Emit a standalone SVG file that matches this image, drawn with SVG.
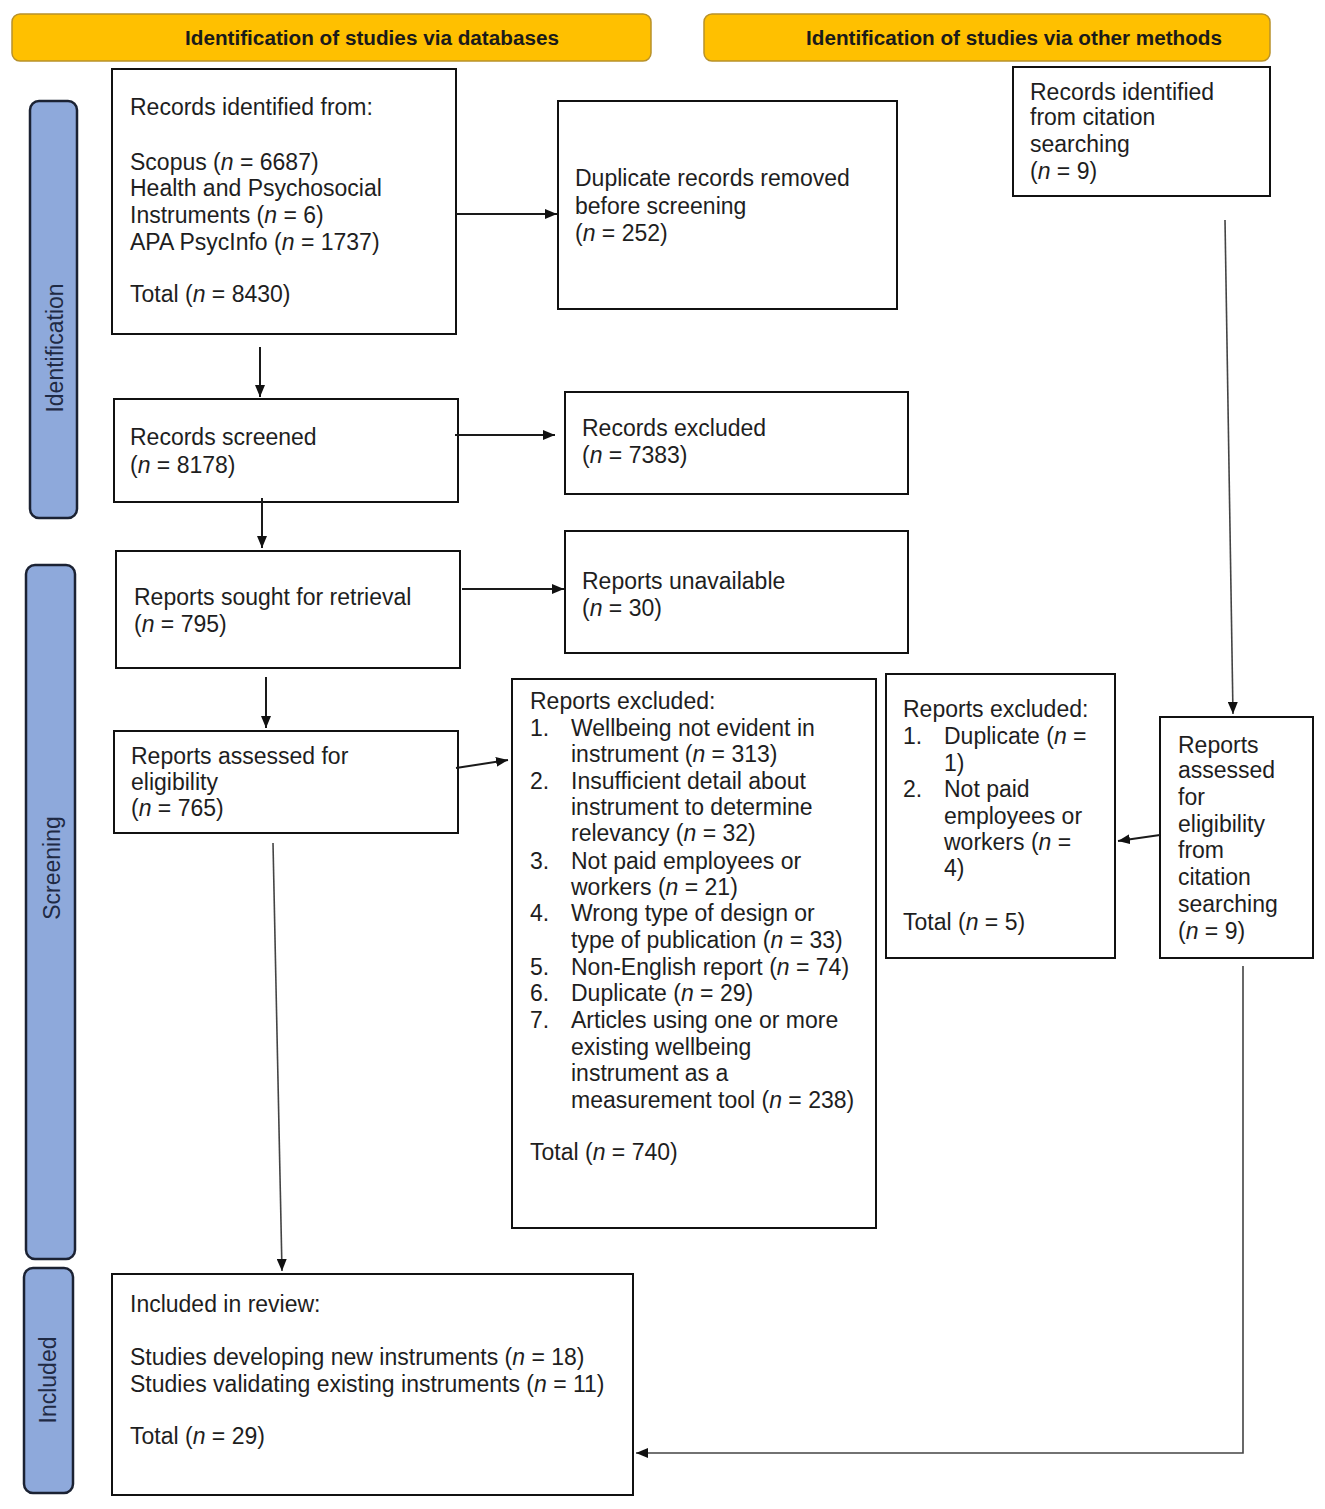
<svg xmlns="http://www.w3.org/2000/svg" width="1325" height="1509" viewBox="0 0 1325 1509">
<style>
.t{font-family:"Liberation Sans",Arial,sans-serif;font-size:23px;fill:#1e1e1e}
.h{font-family:"Liberation Sans",Arial,sans-serif;font-size:20px;font-weight:bold;fill:#1a1a1a}
.s{font-family:"Liberation Sans",Arial,sans-serif;font-size:23px;fill:#1f2a44}
.box{fill:#fff;stroke:#111;stroke-width:2}
.hdr{fill:#FFC000;stroke:#b8912a;stroke-width:1.5}
.side{fill:#8EA9DB;stroke:#1b2233;stroke-width:2.5}
.c{stroke:#1a1a1a;stroke-width:2;fill:none}
.c2{stroke:#444;stroke-width:1.6;fill:none}
.i{font-style:italic}
</style>
<defs>
<marker id="ah" viewBox="0 0 12 10" refX="12" refY="5" markerWidth="12" markerHeight="10" markerUnits="userSpaceOnUse" orient="auto">
<path d="M0,0 L12,5 L0,10 z" fill="#111"/>
</marker>
</defs>
<rect width="1325" height="1509" fill="#fff"/>

<g id="hdr-databases">
<rect class="hdr" x="12" y="14" width="639" height="47" rx="8"/>
<text class="h" x="185" y="45" textLength="374" lengthAdjust="spacingAndGlyphs">Identification of studies via databases</text>
</g>
<g id="hdr-other">
<rect class="hdr" x="704" y="14" width="566" height="47" rx="8"/>
<text class="h" x="806" y="45" textLength="416" lengthAdjust="spacingAndGlyphs">Identification of studies via other methods</text>
</g>

<g id="side-identification">
<rect class="side" x="30" y="101" width="47" height="417" rx="9"/>
<text class="s" transform="translate(63,348) rotate(-90)" text-anchor="middle">Identification</text>
</g>
<g id="side-screening">
<rect class="side" x="26" y="565" width="49" height="694" rx="9"/>
<text class="s" transform="translate(60,868) rotate(-90)" text-anchor="middle">Screening</text>
</g>
<g id="side-included">
<rect class="side" x="24" y="1268" width="49" height="225" rx="9"/>
<text class="s" transform="translate(56,1380) rotate(-90)" text-anchor="middle">Included</text>
</g>

<g id="records-identified">
<rect class="box" x="112" y="69" width="344" height="265"/>
<text class="t" x="130" y="115">Records identified from:</text>
<text class="t" x="130" y="170">Scopus (<tspan class="i">n</tspan> = 6687)</text>
<text class="t" x="130" y="196">Health and Psychosocial</text>
<text class="t" x="130" y="223">Instruments (<tspan class="i">n</tspan> = 6)</text>
<text class="t" x="130" y="250">APA PsycInfo (<tspan class="i">n</tspan> = 1737)</text>
<text class="t" x="130" y="302">Total (<tspan class="i">n</tspan> = 8430)</text>
</g>

<g id="duplicates-removed">
<rect class="box" x="558" y="101" width="339" height="208"/>
<text class="t" x="575" y="186">Duplicate records removed</text>
<text class="t" x="575" y="214">before screening</text>
<text class="t" x="575" y="241">(<tspan class="i">n</tspan> = 252)</text>
</g>

<g id="citation-records">
<rect class="box" x="1013" y="67" width="257" height="129"/>
<text class="t" x="1030" y="100">Records identified</text>
<text class="t" x="1030" y="125">from citation</text>
<text class="t" x="1030" y="152">searching</text>
<text class="t" x="1030" y="179">(<tspan class="i">n</tspan> = 9)</text>
</g>

<g id="records-screened">
<rect class="box" x="114" y="399" width="344" height="103"/>
<text class="t" x="130" y="445">Records screened</text>
<text class="t" x="130" y="473">(<tspan class="i">n</tspan> = 8178)</text>
</g>

<g id="records-excluded">
<rect class="box" x="565" y="392" width="343" height="102"/>
<text class="t" x="582" y="436">Records excluded</text>
<text class="t" x="582" y="463">(<tspan class="i">n</tspan> = 7383)</text>
</g>

<g id="reports-sought">
<rect class="box" x="116" y="551" width="344" height="117"/>
<text class="t" x="134" y="605">Reports sought for retrieval</text>
<text class="t" x="134" y="632">(<tspan class="i">n</tspan> = 795)</text>
</g>

<g id="reports-unavailable">
<rect class="box" x="565" y="531" width="343" height="122"/>
<text class="t" x="582" y="589">Reports unavailable</text>
<text class="t" x="582" y="616">(<tspan class="i">n</tspan> = 30)</text>
</g>

<g id="reports-assessed">
<rect class="box" x="114" y="731" width="344" height="102"/>
<text class="t" x="131" y="764">Reports assessed for</text>
<text class="t" x="131" y="790">eligibility</text>
<text class="t" x="131" y="816">(<tspan class="i">n</tspan> = 765)</text>
</g>

<g id="reports-excluded-db">
<rect class="box" x="512" y="679" width="364" height="549"/>
<text class="t" x="530" y="709">Reports excluded:</text>
<text class="t" x="530" y="736">1.</text><text class="t" x="571" y="736">Wellbeing not evident in</text>
<text class="t" x="571" y="762">instrument (<tspan class="i">n</tspan> = 313)</text>
<text class="t" x="530" y="789">2.</text><text class="t" x="571" y="789">Insufficient detail about</text>
<text class="t" x="571" y="815">instrument to determine</text>
<text class="t" x="571" y="841">relevancy (<tspan class="i">n</tspan> = 32)</text>
<text class="t" x="530" y="869">3.</text><text class="t" x="571" y="869">Not paid employees or</text>
<text class="t" x="571" y="895">workers (<tspan class="i">n</tspan> = 21)</text>
<text class="t" x="530" y="921">4.</text><text class="t" x="571" y="921">Wrong type of design or</text>
<text class="t" x="571" y="948">type of publication (<tspan class="i">n</tspan> = 33)</text>
<text class="t" x="530" y="975">5.</text><text class="t" x="571" y="975">Non-English report (<tspan class="i">n</tspan> = 74)</text>
<text class="t" x="530" y="1001">6.</text><text class="t" x="571" y="1001">Duplicate (<tspan class="i">n</tspan> = 29)</text>
<text class="t" x="530" y="1028">7.</text><text class="t" x="571" y="1028">Articles using one or more</text>
<text class="t" x="571" y="1055">existing wellbeing</text>
<text class="t" x="571" y="1081">instrument as a</text>
<text class="t" x="571" y="1108">measurement tool (<tspan class="i">n</tspan> = 238)</text>
<text class="t" x="530" y="1160">Total (<tspan class="i">n</tspan> = 740)</text>
</g>

<g id="reports-excluded-other">
<rect class="box" x="886" y="674" width="229" height="284"/>
<text class="t" x="903" y="717">Reports excluded:</text>
<text class="t" x="903" y="744">1.</text><text class="t" x="944" y="744">Duplicate (<tspan class="i">n</tspan> =</text>
<text class="t" x="944" y="771">1)</text>
<text class="t" x="903" y="797">2.</text><text class="t" x="944" y="797">Not paid</text>
<text class="t" x="944" y="824">employees or</text>
<text class="t" x="944" y="850">workers (<tspan class="i">n</tspan> =</text>
<text class="t" x="944" y="876">4)</text>
<text class="t" x="903" y="930">Total (<tspan class="i">n</tspan> = 5)</text>
</g>

<g id="reports-assessed-citation">
<rect class="box" x="1160" y="717" width="153" height="241"/>
<text class="t" x="1178" y="753">Reports</text>
<text class="t" x="1178" y="778">assessed</text>
<text class="t" x="1178" y="805">for</text>
<text class="t" x="1178" y="832">eligibility</text>
<text class="t" x="1178" y="858">from</text>
<text class="t" x="1178" y="885">citation</text>
<text class="t" x="1178" y="912">searching</text>
<text class="t" x="1178" y="939">(<tspan class="i">n</tspan> = 9)</text>
</g>

<g id="included">
<rect class="box" x="112" y="1274" width="521" height="221"/>
<text class="t" x="130" y="1312">Included in review:</text>
<text class="t" x="130" y="1365">Studies developing new instruments (<tspan class="i">n</tspan> = 18)</text>
<text class="t" x="130" y="1392">Studies validating existing instruments (<tspan class="i">n</tspan> = 11)</text>
<text class="t" x="130" y="1444">Total (<tspan class="i">n</tspan> = 29)</text>
</g>

<g id="connectors">
<line class="c" x1="456" y1="214" x2="557" y2="214" marker-end="url(#ah)"/>
<line class="c" x1="260" y1="347" x2="260" y2="397" marker-end="url(#ah)"/>
<line class="c" x1="455" y1="435" x2="555" y2="435" marker-end="url(#ah)"/>
<line class="c" x1="262" y1="498" x2="262" y2="548" marker-end="url(#ah)"/>
<line class="c" x1="462" y1="589" x2="564" y2="589" marker-end="url(#ah)"/>
<line class="c" x1="266" y1="677" x2="266" y2="728" marker-end="url(#ah)"/>
<line class="c" x1="456" y1="768" x2="508" y2="760" marker-end="url(#ah)"/>
<line class="c2" x1="273" y1="843" x2="282" y2="1271" marker-end="url(#ah)"/>
<line class="c2" x1="1225" y1="220" x2="1233" y2="714" marker-end="url(#ah)"/>
<line class="c" x1="1160" y1="835" x2="1118" y2="841" marker-end="url(#ah)"/>
<polyline class="c2" points="1243,966 1243,1453 636,1453" marker-end="url(#ah)"/>
</g>
</svg>
